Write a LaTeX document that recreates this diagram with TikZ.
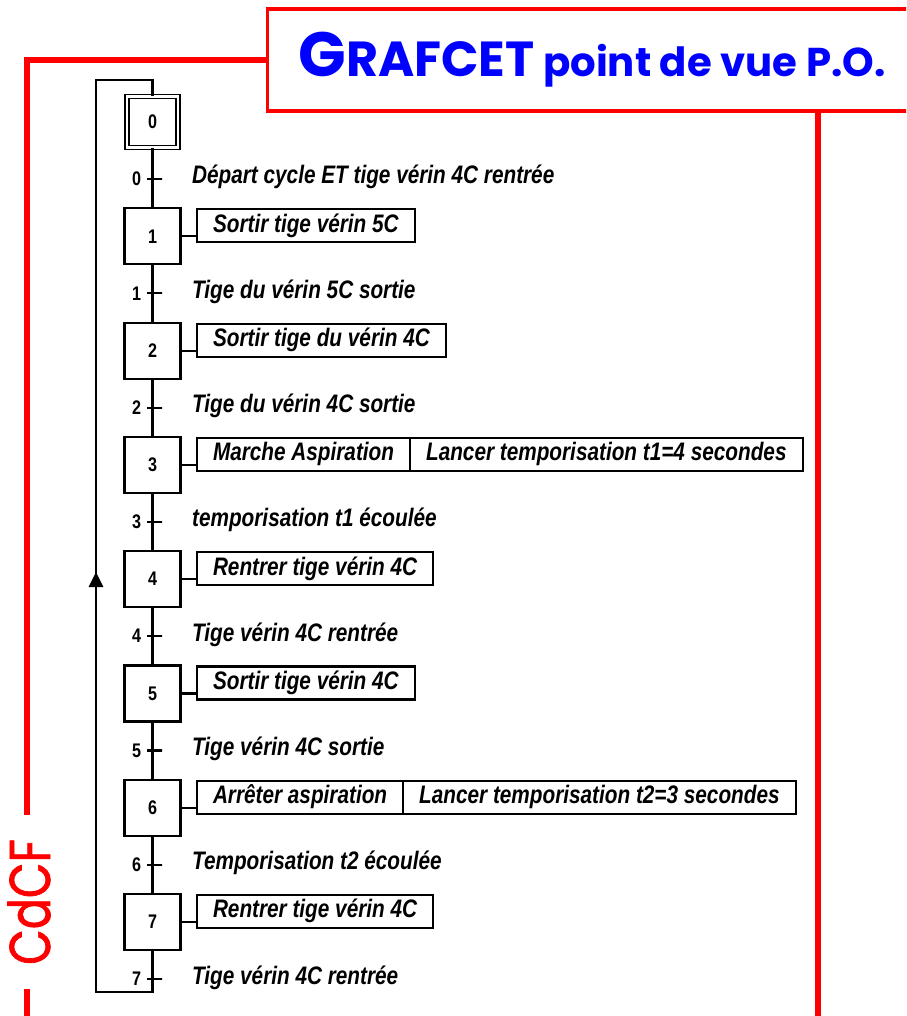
\documentclass[tikz,border=0pt]{standalone}
\usepackage{fontspec}
\setmainfont{Liberation Sans}
\newfontfamily\grafont[FakeStretch=0.82]{Liberation Sans}
\newfontfamily\titrefont{Poppins}
\newfontfamily\cdcffont[FakeStretch=0.8, FakeBold=1.2]{Poppins}
\usetikzlibrary{positioning,arrows.meta}
\definecolor{rouge}{RGB}{255,0,0}
\definecolor{bleu}{RGB}{0,0,255}
\newcommand{\numetape}{\grafont\bfseries\fontsize{14}{14}\selectfont}
\newcommand{\libelle}{\grafont\bfseries\itshape\fontsize{18}{20}\selectfont}

\begin{document}
\begin{tikzpicture}[x=0.025cm, y=-0.025cm,
    etape/.style={draw, line width=1.5pt, minimum width=1.4cm, minimum height=1.4cm, inner sep=0pt, font=\numetape},
    recept/.style={draw, line width=1.5pt, minimum width=0.375cm, minimum height=0pt, inner sep=0pt,
        label={[font=\numetape, label distance=0pt]left:#1}},
    condition/.style={anchor=west, inner sep=0pt, font=\libelle, text height=13pt, text depth=4pt},
    action/.style={draw, line width=1.5pt, minimum height=0.825cm, inner xsep=0.4cm, inner ysep=0pt,
        outer sep=0pt, font=\libelle, text height=13pt, text depth=4pt},
    lien/.style={line width=1.5pt},
    cadre/.style={rouge, line width=3.8pt}]
    \clip (0,0) rectangle (906,1016);
    % Cadre rouge et titre
    \node[draw=rouge, line width=2.2pt, minimum width=16.2cm, minimum height=2.55cm, text=bleu,
        font=\titrefont\bfseries] (titre) at (592,60)
        {\fontsize{44.5}{44}\selectfont G\fontsize{35}{35}\selectfont RAFCET\fontsize{28.6}{28}\selectfont{} point de vue P.O.};
    \node[rotate=90, inner xsep=0.6cm, inner ysep=0pt, text=rouge, font=\cdcffont\fontsize{41}{41}\selectfont] (cdcf) at (29,902) {CdCF};
    \coordinate (cg) at (27,1020);
    \coordinate (cd) at (818,1020);
    \draw[cadre] (titre.west) -| (cg |- cdcf.east);
    \draw[cadre] (cg |- cdcf.west) -- (cg);
    \draw[cadre] (cd |- titre.south) -- (cd);
    % Etapes
    \node[etape, minimum width=1.27cm, minimum height=1.27cm, line width=1.1pt, double, double distance=1.6pt] (s0) at (152.5,122) {0};
    \node[etape] (s1) at (152.5,236.3) {1};
    \node[etape] (s2) at (152.5,350.6) {2};
    \node[etape] (s3) at (152.5,464.9) {3};
    \node[etape] (s4) at (152.5,579.2) {4};
    \node[etape] (s5) at (152.5,693.5) {5};
    \node[etape] (s6) at (152.5,807.8) {6};
    \node[etape] (s7) at (152.5,922.1) {7};
    % Transitions
    \node[recept=0] (t0) at (154.5,179) {};
    \node[recept=1] (t1) at (154.5,293.3) {};
    \node[recept=2] (t2) at (154.5,407.6) {};
    \node[recept=3] (t3) at (154.5,521.9) {};
    \node[recept=4] (t4) at (154.5,636.2) {};
    \node[recept=5] (t5) at (154.5,750.5) {};
    \node[recept=6] (t6) at (154.5,864.8) {};
    \node[recept=7] (t7) at (154.5,979.1) {};
    \node[condition, right=0.72cm of t0, yshift=1pt] (c0) {Départ cycle ET tige vérin 4C rentrée};
    \node[condition, right=0.72cm of t1, yshift=1pt] (c1) {Tige du vérin 5C sortie};
    \node[condition, right=0.72cm of t2, yshift=1pt] (c2) {Tige du vérin 4C sortie};
    \node[condition, right=0.72cm of t3, yshift=1pt] (c3) {temporisation t1 écoulée};
    \node[condition, right=0.72cm of t4, yshift=1pt] (c4) {Tige vérin 4C rentrée};
    \node[condition, right=0.72cm of t5, yshift=1pt] (c5) {Tige vérin 4C sortie};
    \node[condition, right=0.72cm of t6, yshift=1pt] (c6) {Temporisation t2 écoulée};
    \node[condition, right=0.72cm of t7, yshift=1pt] (c7) {Tige vérin 4C rentrée};
    % Actions
    \node[action, anchor=west] (a1) at (197,225.8) {Sortir tige vérin 5C};
    \node[action, anchor=west] (a2) at (197,340.1) {Sortir tige du vérin 4C};
    \node[action, anchor=west] (a3) at (197,454.4) {Marche Aspiration};
    \node[action, right=0pt of a3] (a3b) {Lancer temporisation t1=4 secondes};
    \node[action, anchor=west] (a4) at (197,568.7) {Rentrer tige vérin 4C};
    \node[action, anchor=west] (a5) at (197,683) {Sortir tige vérin 4C};
    \node[action, anchor=west] (a6) at (197,797.3) {Arrêter aspiration};
    \node[action, right=0pt of a6] (a6b) {Lancer temporisation t2=3 secondes};
    \node[action, anchor=west] (a7) at (197,911.6) {Rentrer tige vérin 4C};
    \draw[lien] (s1.east) -- (s1.east -| a1.west);
    \draw[lien] (s2.east) -- (s2.east -| a2.west);
    \draw[lien] (s3.east) -- (s3.east -| a3.west);
    \draw[lien] (s4.east) -- (s4.east -| a4.west);
    \draw[lien] (s5.east) -- (s5.east -| a5.west);
    \draw[lien] (s6.east) -- (s6.east -| a6.west);
    \draw[lien] (s7.east) -- (s7.east -| a7.west);
    % Liaisons
    \draw[lien] (s0.south) -- (s1.north);
    \draw[lien] (s1.south) -- (s2.north);
    \draw[lien] (s2.south) -- (s3.north);
    \draw[lien] (s3.south) -- (s4.north);
    \draw[lien] (s4.south) -- (s5.north);
    \draw[lien] (s5.south) -- (s6.north);
    \draw[lien] (s6.south) -- (s7.north);
    % Retour vers l'etape initiale
    \coordinate (bas) at (152.5,992);
    \coordinate (coin) at (96,992);
    \coordinate (haut) at (152.5,80);
    \coordinate (fleche) at (96,572);
    \draw[lien] (s7.south) -- (bas) -- (coin) |- (haut) -- (s0.north);
    \draw[lien, -{Triangle[width=0.36cm, length=0.38cm]}] (coin) -- (fleche);
\end{tikzpicture}
\end{document}
